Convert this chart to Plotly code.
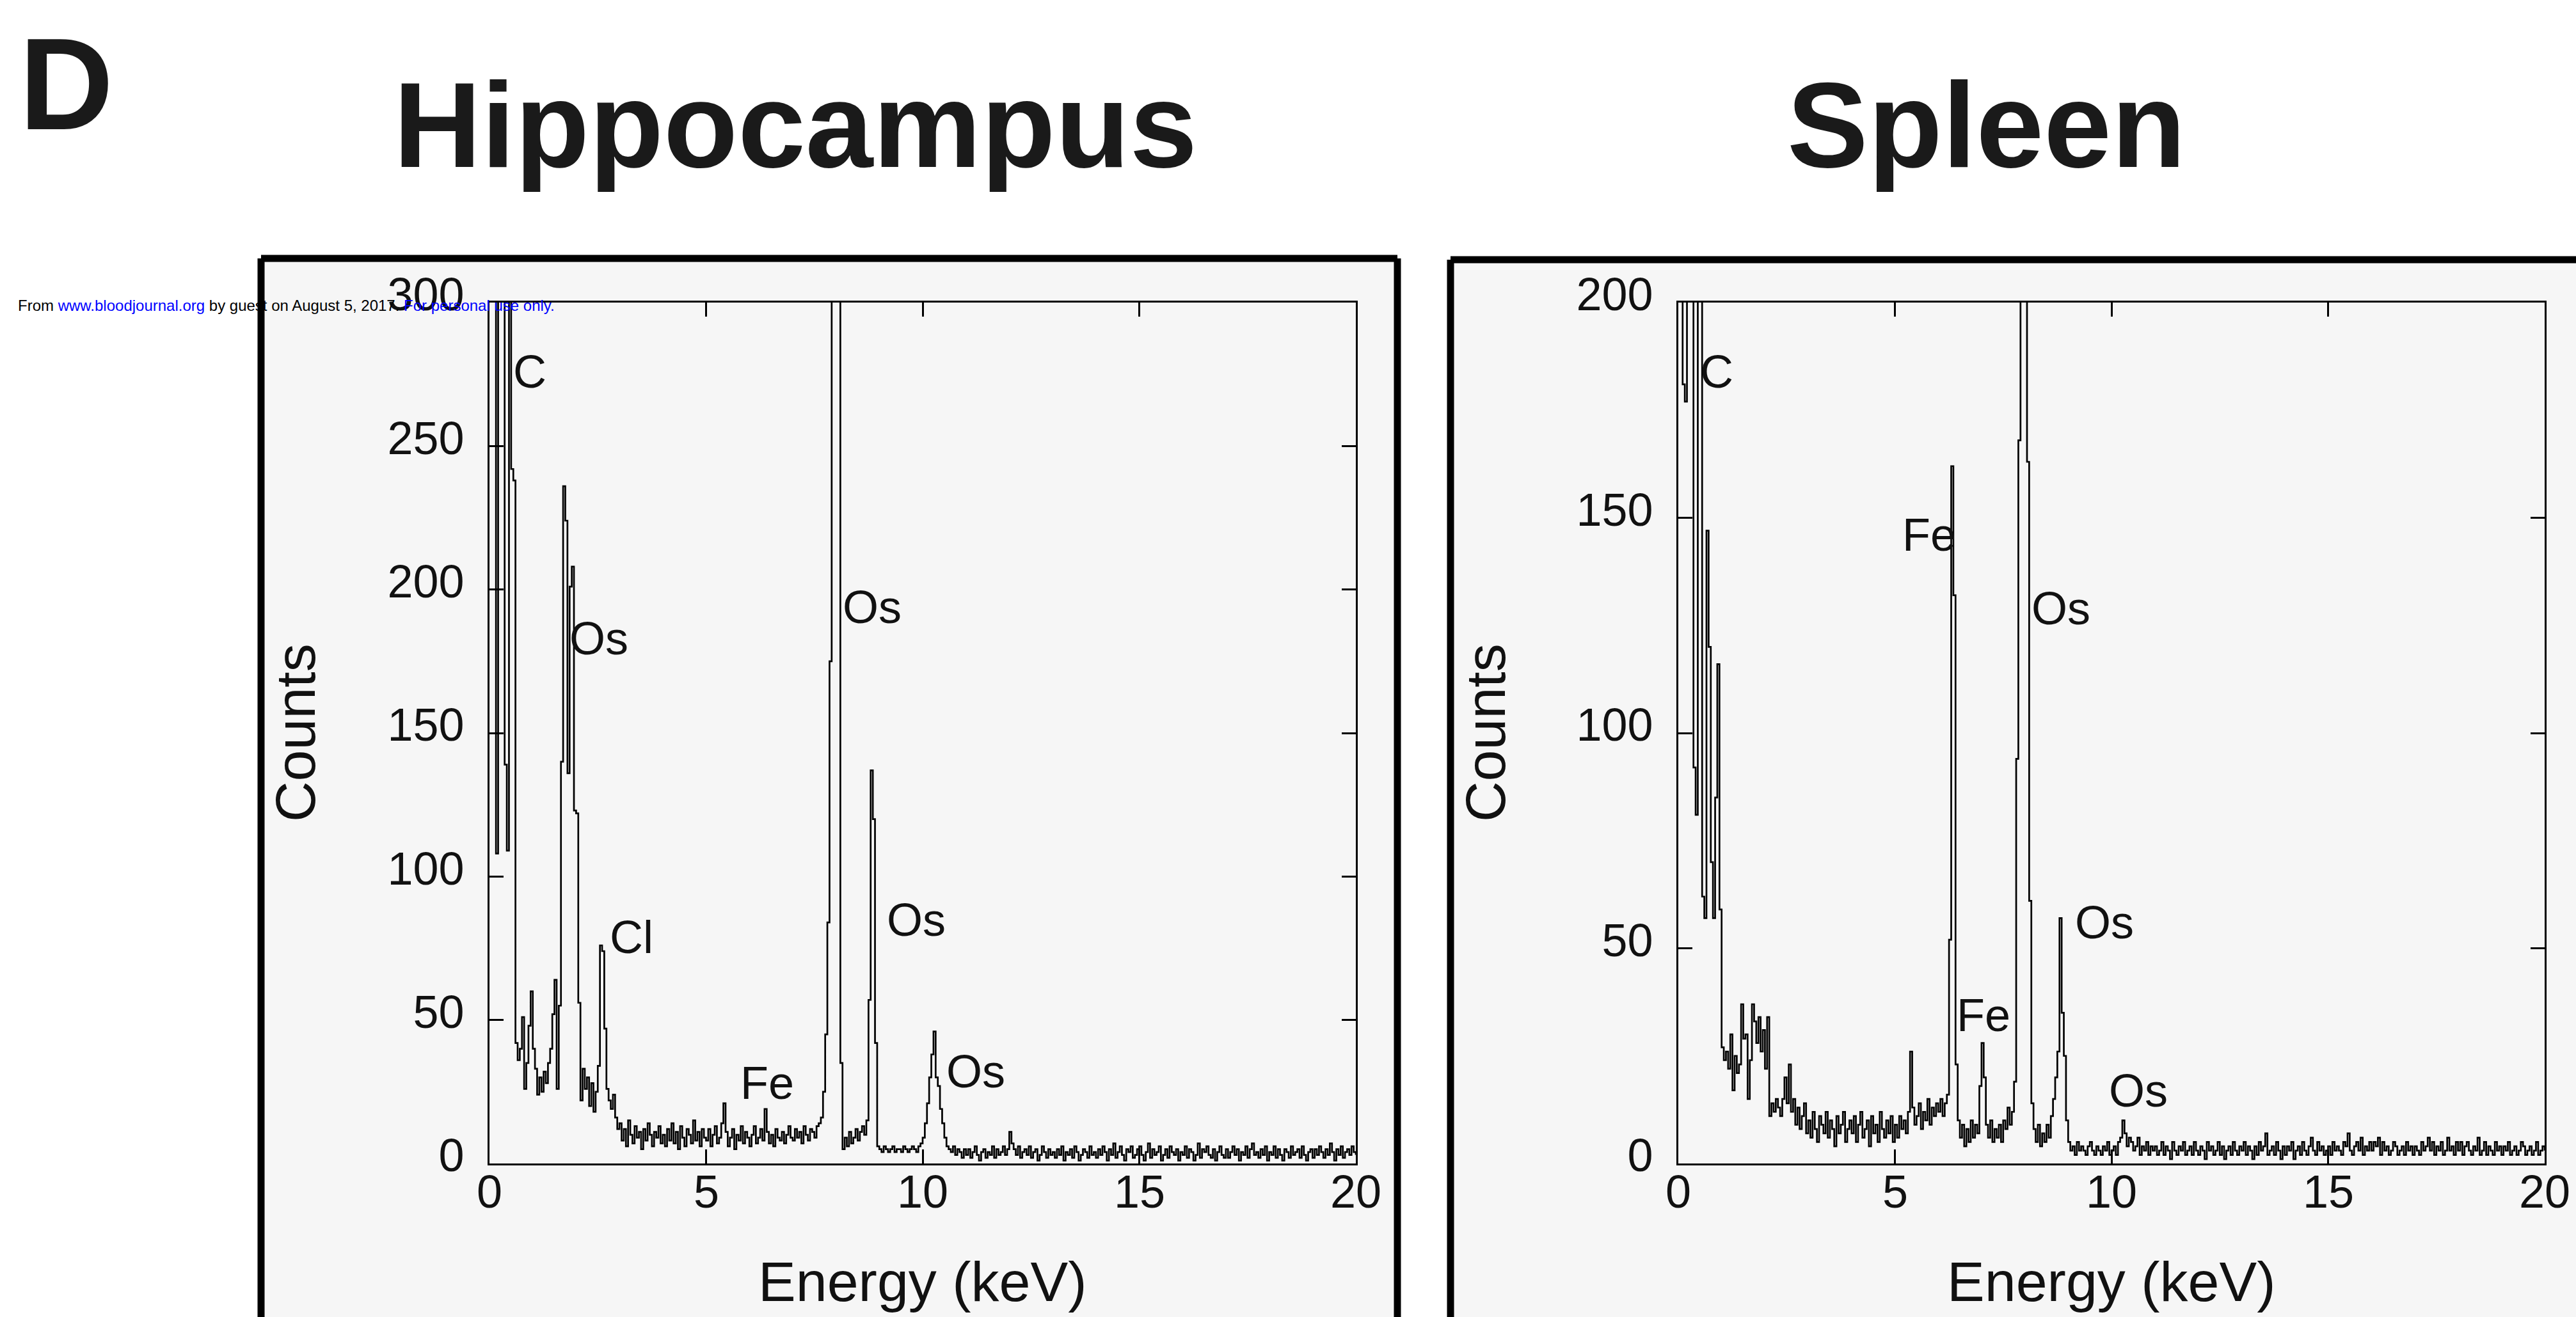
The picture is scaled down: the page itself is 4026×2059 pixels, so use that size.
import plotly.graph_objects as go

W, H = 4026, 2059

# ---------------- data ----------------
channel_width_kev = 0.05
energy_kev = [round(i * channel_width_kev, 2) for i in range(401)]

hippocampus_counts = (
    [330, 330, 330, 108, 330, 330, 330, 139, 109, 330, 242, 238, 42, 36, 40, 51, 26, 35, 48, 60] +   # 0-1 keV
    [40, 33, 24, 30, 25, 32, 28, 35, 40, 52, 64, 26, 55, 140, 236, 224, 136, 201, 208, 123] +        # 1-2
    [122, 56, 22, 33, 26, 30, 20, 28, 18, 25, 34, 76, 74, 47, 26, 22, 19, 24, 16, 12] +              # 2-3
    [14, 8, 12, 6, 15, 10, 7, 13, 9, 11, 5, 12, 8, 14, 10, 6, 11, 9, 13, 7] +                        # 3-4
    [10, 6, 12, 8, 14, 7, 11, 5, 13, 9, 6, 12, 10, 7, 15, 8, 11, 6, 12, 9] +                         # 4-5
    [8, 12, 6, 10, 13, 7, 9, 14, 21, 11, 6, 9, 12, 5, 10, 8, 13, 7, 11, 9] +                         # 5-6
    [6, 10, 13, 7, 9, 12, 8, 19, 11, 7, 10, 6, 12, 9, 8, 11, 7, 10, 13, 9] +                         # 6-7
    [8, 12, 9, 11, 7, 13, 10, 8, 12, 11, 9, 13, 14, 16, 25, 45, 84, 175, 330, 330] +                 # 7-8
    [330, 330, 35, 5, 9, 6, 11, 7, 9, 12, 8, 11, 13, 10, 15, 57, 137, 120, 42, 6] +                  # 8-9
    [5, 4, 6, 5, 4, 5, 6, 4, 5, 5, 4, 6, 5, 4, 5, 6, 5, 4, 6, 7] +                                   # 9-10
    [9, 14, 21, 30, 38, 46, 30, 27, 19, 14, 9, 6, 5, 4, 6, 3, 5, 4, 2, 5] +                          # 10-11
    [3, 5, 2, 4, 6, 3, 1, 4, 5, 2, 4, 3, 6, 2, 5, 3, 4, 6, 3, 5] +                                   # 11-12
    [11, 7, 5, 3, 6, 2, 4, 5, 3, 6, 2, 4, 5, 1, 3, 6, 4, 2, 5, 3] +                                  # 12-13
    [4, 2, 5, 3, 6, 1, 4, 3, 5, 2, 6, 4, 1, 3, 5, 4, 2, 6, 3, 4] +                                   # 13-14
    [2, 5, 3, 6, 4, 1, 5, 3, 7, 2, 4, 6, 3, 1, 5, 4, 6, 2, 3, 5] +                                   # 14-15
    [6, 3, 1, 4, 7, 2, 5, 3, 4, 6, 1, 3, 5, 2, 6, 4, 3, 5, 1, 4] +                                   # 15-16
    [3, 6, 2, 5, 4, 1, 3, 7, 2, 5, 4, 6, 3, 2, 5, 1, 4, 6, 3, 2] +                                   # 16-17
    [5, 2, 4, 6, 3, 5, 1, 4, 3, 6, 2, 5, 7, 3, 4, 2, 5, 3, 6, 1] +                                   # 17-18
    [4, 3, 6, 2, 5, 3, 1, 5, 4, 2, 6, 3, 4, 5, 2, 6, 3, 1, 4, 5] +                                   # 18-19
    [2, 5, 3, 6, 4, 2, 5, 3, 7, 4, 1, 5, 3, 6, 2, 4, 5, 3, 6, 4] +                                   # 19-20
    [3]
)

spleen_counts = (
    [230, 230, 181, 177, 230, 230, 230, 92, 81, 230, 230, 62, 57, 147, 120, 70, 57, 85, 116, 59] +   # 0-1 keV
    [27, 24, 26, 22, 30, 17, 25, 21, 23, 37, 29, 30, 15, 24, 37, 33, 28, 34, 26, 31] +               # 1-2
    [22, 34, 11, 14, 12, 15, 13, 11, 15, 20, 14, 23, 12, 15, 9, 13, 8, 11, 14, 7] +                  # 2-3
    [10, 6, 12, 8, 5, 11, 9, 7, 12, 6, 10, 8, 4, 11, 7, 9, 12, 5, 8, 10] +                           # 3-4
    [7, 11, 5, 9, 12, 6, 8, 10, 4, 11, 7, 9, 5, 12, 8, 6, 10, 7, 11, 5] +                            # 4-5
    [9, 6, 11, 8, 10, 7, 12, 26, 13, 9, 11, 14, 8, 12, 10, 15, 9, 13, 11, 14] +                      # 5-6
    [12, 15, 11, 14, 16, 52, 162, 132, 23, 10, 6, 9, 4, 8, 5, 10, 6, 9, 7, 18] +                     # 6-7
    [28, 20, 9, 6, 10, 5, 8, 6, 9, 5, 10, 8, 13, 9, 12, 19, 94, 168, 230, 230] +                     # 7-8
    [230, 163, 61, 14, 8, 5, 9, 4, 7, 5, 9, 6, 11, 15, 20, 26, 57, 35, 25, 10] +                     # 8-9
    [5, 3, 4, 2, 5, 3, 4, 3, 2, 4, 5, 3, 2, 4, 3, 2, 4, 3, 5, 2] +                                   # 9-10
    [3, 4, 2, 5, 6, 10, 7, 4, 6, 5, 3, 4, 6, 2, 4, 3, 5, 2, 4, 3] +                                  # 10-11
    [4, 2, 3, 5, 2, 4, 3, 1, 5, 3, 2, 4, 3, 5, 2, 3, 4, 2, 5, 3] +                                   # 11-12
    [2, 4, 3, 1, 5, 3, 4, 2, 3, 5, 2, 4, 1, 3, 4, 2, 5, 3, 2, 4] +                                   # 12-13
    [3, 5, 2, 4, 3, 1, 4, 2, 5, 3, 4, 7, 2, 3, 4, 2, 5, 3, 1, 4] +                                   # 13-14
    [2, 4, 3, 5, 1, 3, 4, 2, 5, 3, 2, 4, 6, 3, 2, 5, 3, 4, 2, 3] +                                   # 14-15
    [4, 2, 5, 3, 4, 3, 2, 5, 4, 7, 3, 2, 4, 5, 3, 6, 2, 4, 3, 5] +                                   # 15-16
    [3, 5, 4, 6, 2, 5, 3, 4, 2, 3, 5, 4, 2, 3, 4, 2, 5, 3, 4, 2] +                                   # 16-17
    [4, 3, 2, 5, 3, 4, 6, 3, 5, 2, 4, 3, 5, 2, 3, 6, 3, 4, 2, 5] +                                   # 17-18
    [3, 5, 2, 4, 5, 3, 2, 4, 3, 6, 2, 3, 5, 2, 4, 3, 2, 5, 3, 4] +                                   # 18-19
    [2, 4, 3, 5, 2, 3, 4, 2, 3, 5, 4, 2, 3, 4, 2, 3, 5, 2, 3, 4] +                                   # 19-20
    [3]
)

energy_ticks = [0, 5, 10, 15, 20]
energy_tick_labels = ["0", "5", "10", "15", "20"]
hippocampus_count_ticks = [0, 50, 100, 150, 200, 250, 300]
spleen_count_ticks = [0, 50, 100, 150, 200]

hippocampus_peak_names = ["C", "Os", "Cl", "Fe", "Os", "Os", "Os"]
hippocampus_peak_energy = [0.52, 1.82, 2.75, 5.76, 8.12, 9.14, 10.52]
hippocampus_peak_counts = [276, 183, 79, 28, 194, 85, 32]

spleen_peak_names = ["C", "Fe", "Os", "Fe", "Os", "Os"]
spleen_peak_energy = [0.47, 5.14, 8.12, 6.40, 9.13, 9.91]
spleen_peak_counts = [184, 146, 129, 34.5, 56, 17]

panel_titles = ["Hippocampus", "Spleen"]
x_title = "Energy (keV)"
y_title = "Counts"

# ---------------- placement helpers (picture pixels -> paper) ----------------
def px(X):
    return min(max(X / W, 0.0), 1.0)

def py(Y):
    return min(max(1 - Y / H, 0.0), 1.0)

FONT = "Liberation Sans, Arial, Helvetica, sans-serif"
BG_IN = "#f6f6f6"
TXT = "#111111"

fig = go.Figure()
fig.add_trace(go.Scatter(x=energy_kev, y=hippocampus_counts, mode="lines",
                         line=dict(color="black", width=2.7, shape="hv"),
                         xaxis="x", yaxis="y", showlegend=False))
fig.add_trace(go.Scatter(x=energy_kev, y=spleen_counts, mode="lines",
                         line=dict(color="black", width=2.7, shape="hv"),
                         xaxis="x2", yaxis="y2", showlegend=False))

ydom = [py(1819), py(473)]
common_x = dict(range=[0, 20], tickvals=energy_ticks, ticks="inside", ticklen=22, tickwidth=3,
                tickcolor="black", showline=True, linewidth=3, linecolor="black", mirror="ticks",
                showgrid=False, zeroline=False, showticklabels=False, automargin=False,
                fixedrange=True)
common_y = dict(ticks="inside", ticklen=22, tickwidth=3, tickcolor="black", showline=True,
                linewidth=3, linecolor="black", mirror="ticks", showgrid=False, zeroline=False,
                tickfont=dict(family=FONT, size=72, color=TXT), ticklabelstandoff=22,
                ticklabelshift=-13, automargin=False, fixedrange=True)

fig.update_layout(
    width=W, height=H, autosize=False,
    margin=dict(l=0, r=0, t=0, b=0, pad=0),
    paper_bgcolor="white",
    plot_bgcolor="rgba(0,0,0,0)",
    xaxis=dict(domain=[px(765), px(2119)], anchor="y", **common_x),
    yaxis=dict(domain=ydom, anchor="x", range=[0, 300], tickvals=hippocampus_count_ticks, **common_y),
    xaxis2=dict(domain=[px(2623), px(3977)], anchor="y2", **common_x),
    yaxis2=dict(domain=ydom, anchor="x2", range=[0, 200], tickvals=spleen_count_ticks, **common_y),
)

FW = 11
shapes = [
    dict(type="rect", xref="paper", yref="paper", x0=px(408), x1=px(2184), y0=py(404), y1=0,
         line=dict(width=0), fillcolor=BG_IN, layer="below"),
    dict(type="line", xref="paper", yref="paper", x0=px(408), x1=px(2184), y0=py(404), y1=py(404),
         line=dict(color="black", width=FW), layer="below"),
    dict(type="line", xref="paper", yref="paper", x0=px(408), x1=px(408), y0=py(404), y1=0,
         line=dict(color="black", width=FW), layer="below"),
    dict(type="line", xref="paper", yref="paper", x0=px(2184), x1=px(2184), y0=py(404), y1=0,
         line=dict(color="black", width=FW), layer="below"),
    dict(type="rect", xref="paper", yref="paper", x0=px(2267), x1=1, y0=py(406), y1=0,
         line=dict(width=0), fillcolor=BG_IN, layer="below"),
    dict(type="line", xref="paper", yref="paper", x0=px(2267), x1=1, y0=py(406), y1=py(406),
         line=dict(color="black", width=FW), layer="below"),
    dict(type="line", xref="paper", yref="paper", x0=px(2267), x1=px(2267), y0=py(406), y1=0,
         line=dict(color="black", width=FW), layer="below"),
]
fig.update_layout(shapes=shapes)

ann = []
ann.append(dict(text="<b>D</b>", x=px(103), y=py(131), xref="paper", yref="paper",
                xanchor="center", yanchor="middle", showarrow=False,
                font=dict(family=FONT, size=204, color="#1a1a1a")))
for t, cx in zip(panel_titles, [1243, 3104]):
    ann.append(dict(text="<b>%s</b>" % t, x=px(cx), y=py(195), xref="paper", yref="paper",
                    xanchor="center", yanchor="middle", showarrow=False,
                    font=dict(family=FONT, size=190, color="#1a1a1a")))
# x tick labels, placed at the tick values of each energy axis
for xr in ["x", "x2"]:
    for tv, tl in zip(energy_ticks, energy_tick_labels):
        ann.append(dict(text=tl, x=tv, y=py(1863), xref=xr, yref="paper",
                        xanchor="center", yanchor="middle", showarrow=False,
                        font=dict(family=FONT, size=72, color=TXT)))
for cx in [1442, 3300]:
    ann.append(dict(text=x_title, x=px(cx), y=py(2003), xref="paper", yref="paper",
                    xanchor="center", yanchor="middle", showarrow=False,
                    font=dict(family=FONT, size=88, color=TXT)))
for cx in [461, 2321]:
    ann.append(dict(text=y_title, x=px(cx), y=py(1146), xref="paper", yref="paper",
                    xanchor="center", yanchor="middle", showarrow=False, textangle=-90,
                    font=dict(family=FONT, size=88, color=TXT)))
for n, ex, cy in zip(hippocampus_peak_names, hippocampus_peak_energy, hippocampus_peak_counts):
    ann.append(dict(text=n, x=ex, y=cy, xref="x", yref="y", xanchor="left", yanchor="middle",
                    showarrow=False, font=dict(family=FONT, size=72, color=TXT)))
for n, ex, cy in zip(spleen_peak_names, spleen_peak_energy, spleen_peak_counts):
    ann.append(dict(text=n, x=ex, y=cy, xref="x2", yref="y2", xanchor="left", yanchor="middle",
                    showarrow=False, font=dict(family=FONT, size=72, color=TXT)))
wm = ('From <span style="color:#0000ff">www.bloodjournal.org</span> by guest on August 5, 2017. '
      '<span style="color:#0000ff">For personal use only.</span>')
ann.append(dict(text=wm, x=px(26), y=py(478), xref="paper", yref="paper", xanchor="left",
                yanchor="middle", showarrow=False, font=dict(family=FONT, size=24, color="black")))

fig.update_layout(annotations=ann)

fig.write_html("out.html")
